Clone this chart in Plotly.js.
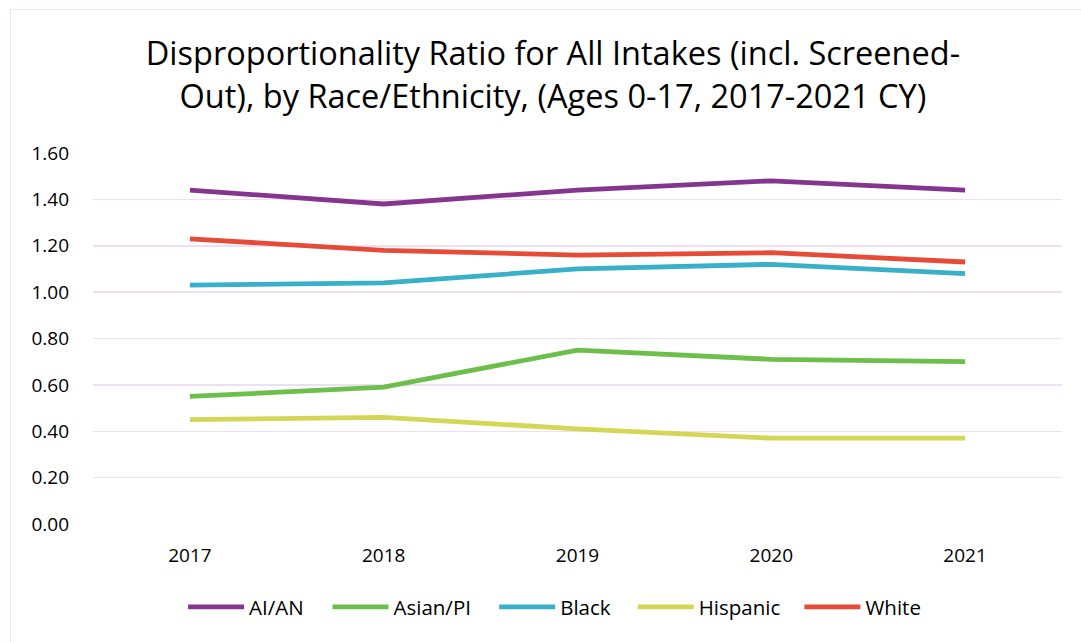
<!DOCTYPE html>
<html>
<head>
<meta charset="utf-8">
<script src="https://cdn.plot.ly/plotly-3.0.1.min.js"></script>
<style>
  html, body { margin: 0; padding: 0; background: #ffffff; }
  #wrap { position: relative; width: 1081px; height: 642px; overflow: hidden; }
  #chart { width: 1081px; height: 642px; }
  #frame { position: absolute; left: 10px; top: 9px; width: 1080px; height: 640px;
           border: 1px solid #efe1f1; box-sizing: border-box; pointer-events: none; }
</style>
</head>
<body>
<div id="wrap">
  <div id="chart"></div>
  <div id="frame"></div>
</div>
<script>
// Calendar years on the category axis
const years = ['2017', '2018', '2019', '2020', '2021'];

// Disproportionality ratio by race/ethnicity
const aian     = [1.44, 1.38, 1.44, 1.48, 1.44];
const asianPI  = [0.55, 0.59, 0.75, 0.71, 0.70];
const black    = [1.03, 1.04, 1.10, 1.12, 1.08];
const hispanic = [0.45, 0.46, 0.41, 0.37, 0.37];
const white    = [1.23, 1.18, 1.16, 1.17, 1.13];

const yTicks = [0, 0.2, 0.4, 0.6, 0.8, 1.0, 1.2, 1.4, 1.6];

const FONT = '"Open Sans", Lato, "Liberation Sans", sans-serif';

// Each series gets its own one-entry legend so the entries can be spaced out
const legendIds = ['legend', 'legend2', 'legend3', 'legend4', 'legend5'];
const legendLeft = [0.093, 0.242, 0.414, 0.557, 0.729];

function series(name, values, color, i) {
  return {
    type: 'scatter',
    mode: 'lines',
    name: name,
    x: years,
    y: values,
    legend: legendIds[i],
    line: { color: color, width: 4.8, shape: 'linear' },
    hoverinfo: 'x+y+name'
  };
}

const data = [
  series('AI/AN', aian, '#85358f', 0),
  series('Asian/PI', asianPI, '#6cbf4a', 1),
  series('Black', black, '#38b0c9', 2),
  series('Hispanic', hispanic, '#d3d755', 3),
  series('White', white, '#e64b37', 4)
];

const layout = {
  width: 1081,
  height: 642,
  paper_bgcolor: '#ffffff',
  plot_bgcolor: '#ffffff',
  margin: { l: 93, r: 19, t: 153, b: 118 },
  font: { family: FONT, color: '#000000', size: 20 },
  title: {
    text: 'Disproportionality Ratio for All Intakes (incl. Screened-<br>Out), by Race/Ethnicity, (Ages 0-17, 2017-2021 CY)',
    font: { family: FONT, size: 32.5, color: '#000000' },
    x: 0.5115,
    xanchor: 'center',
    y: 0.898,
    yanchor: 'top'
  },
  xaxis: {
    type: 'category',
    range: [-0.5, 4.5],
    showgrid: false,
    showline: false,
    zeroline: false,
    ticks: '',
    tickfont: { family: FONT, size: 19, color: '#000000' },
    ticklabelstandoff: 18
  },
  yaxis: {
    range: [0, 1.6],
    tickvals: yTicks,
    tickformat: '.2f',
    showgrid: true,
    gridcolor: '#efdff2',
    gridwidth: 1.5,
    zeroline: false,
    showline: false,
    ticks: '',
    ticklabelstandoff: 23,
    tickfont: { family: FONT, size: 19, color: '#000000' }
  },
  showlegend: true
};

legendIds.forEach(function (id, i) {
  layout[id] = {
    orientation: 'h',
    x: legendLeft[i],
    xanchor: 'left',
    y: -0.224,
    yanchor: 'middle',
    itemwidth: 56,
    bgcolor: 'rgba(0,0,0,0)',
    font: { family: FONT, size: 20.5, color: '#000000' }
  };
});

Plotly.newPlot('chart', data, layout, { displayModeBar: false, staticPlot: true });
</script>
</body>
</html>
